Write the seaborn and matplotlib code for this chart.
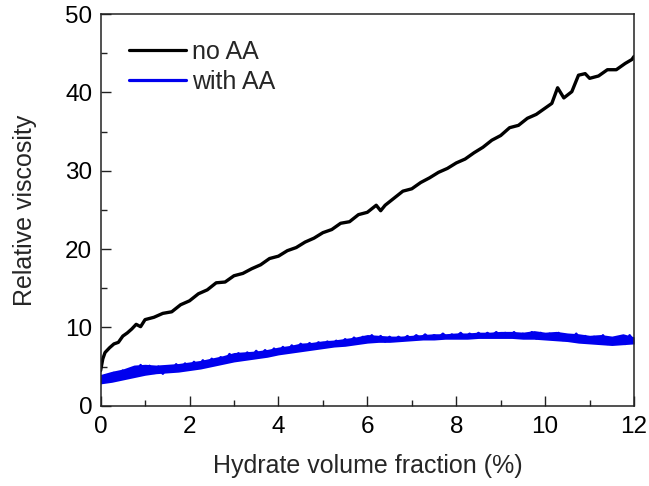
import numpy as np
import pandas as pd
import matplotlib
matplotlib.use("Agg")
import matplotlib.pyplot as plt
import seaborn as sns
from matplotlib.ticker import MultipleLocator

# ---- data ----
no_aa_x = [0.0, 0.05, 0.1, 0.2, 0.3, 0.4, 0.5, 0.6, 0.7, 0.8, 0.9, 1.0, 1.2, 1.4, 1.6, 1.8,
           2.0, 2.2, 2.4, 2.6, 2.8, 3.0, 3.2, 3.4, 3.6, 3.8, 4.0, 4.2, 4.4, 4.6, 4.8,
           5.0, 5.2, 5.4, 5.6, 5.8, 6.0, 6.2, 6.3, 6.4, 6.6, 6.8, 7.0, 7.2, 7.4, 7.6, 7.8,
           8.0, 8.2, 8.4, 8.6, 8.8, 9.0, 9.2, 9.4, 9.6, 9.8, 10.0, 10.15, 10.28, 10.42,
           10.6, 10.75, 10.9, 11.0, 11.2, 11.4, 11.6, 11.8, 11.95, 12.0]
no_aa_y = [4.5, 6.0, 6.8, 7.4, 7.9, 8.1, 8.9, 9.3, 9.8, 10.4, 10.1, 11.0, 11.3, 11.8, 12.0, 12.9,
           13.4, 14.3, 14.8, 15.7, 15.8, 16.6, 16.9, 17.5, 18.0, 18.8, 19.1, 19.8, 20.2, 20.9, 21.4,
           22.1, 22.5, 23.3, 23.5, 24.4, 24.7, 25.6, 24.9, 25.6, 26.5, 27.4, 27.7, 28.5, 29.1, 29.8, 30.3,
           31.0, 31.5, 32.3, 33.0, 33.9, 34.5, 35.5, 35.8, 36.7, 37.2, 38.0, 38.6, 40.6, 39.3,
           40.1, 42.2, 42.4, 41.8, 42.1, 42.9, 42.9, 43.7, 44.2, 44.6]

# noisy "with AA" trace
with_aa_x = [round(0.1 * i, 1) for i in range(121)]
with_aa_y = [3.0, 3.9, 3.2, 4.2, 3.5, 4.5, 3.6, 4.6, 4.0, 5.2, 4.3,
             5.1, 4.2, 5.0, 4.1, 5.0, 4.4, 5.3, 4.5, 5.4, 4.7,
             5.6, 4.9, 5.8, 5.2, 6.0, 5.4, 6.2, 5.7, 6.6, 5.9,
             6.7, 6.0, 6.8, 6.2, 7.0, 6.4, 7.1, 6.5, 7.3, 6.7,
             7.5, 6.9, 7.7, 7.1, 7.9, 7.3, 8.0, 7.4, 8.1, 7.6,
             8.2, 7.7, 8.3, 7.8, 8.5, 8.0, 8.7, 8.1, 8.8, 8.3,
             9.0, 8.3, 8.9, 8.2, 8.8, 8.3, 8.8, 8.4, 8.9, 8.5,
             9.0, 8.6, 9.1, 8.6, 9.0, 8.7, 9.2, 8.7, 9.1, 8.8,
             9.3, 8.7, 9.2, 8.8, 9.3, 8.8, 9.3, 8.9, 9.4, 8.8,
             9.3, 8.8, 9.4, 8.7, 9.2, 8.7, 9.4, 8.6, 9.3, 8.6,
             9.2, 8.5, 9.3, 8.4, 9.0, 8.5, 9.2, 8.3, 8.9, 8.1,
             8.8, 8.0, 9.0, 7.9, 8.6, 8.0, 8.8, 7.9, 9.0, 8.2]

# envelope of the noisy "with AA" band
band_x = [0.0, 0.25, 0.5, 0.75, 1.0, 1.25, 1.5, 1.75, 2.0, 2.25, 2.5, 2.75, 3.0, 3.25,
          3.5, 3.75, 4.0, 4.25, 4.5, 4.75, 5.0, 5.25, 5.5, 5.75, 6.0, 6.25, 6.5, 6.75,
          7.0, 7.25, 7.5, 7.75, 8.0, 8.25, 8.5, 8.75, 9.0, 9.25, 9.5, 9.75, 10.0, 10.25,
          10.5, 10.75, 11.0, 11.25, 11.5, 11.75, 12.0]
band_lo = [2.8, 3.0, 3.3, 3.6, 3.9, 4.1, 4.2, 4.3, 4.5, 4.7, 5.0, 5.3, 5.6, 5.8,
           6.0, 6.2, 6.5, 6.7, 6.9, 7.1, 7.3, 7.5, 7.6, 7.8, 8.0, 8.1, 8.1, 8.2,
           8.3, 8.4, 8.4, 8.5, 8.5, 8.5, 8.6, 8.6, 8.6, 8.6, 8.5, 8.5, 8.4, 8.3,
           8.2, 8.0, 7.9, 7.8, 7.7, 7.8, 7.9]
band_hi = [4.0, 4.4, 4.7, 5.2, 5.3, 5.2, 5.3, 5.4, 5.6, 5.8, 6.1, 6.4, 6.8, 6.9,
           7.0, 7.2, 7.5, 7.7, 8.0, 8.1, 8.3, 8.4, 8.6, 8.8, 9.1, 9.0, 8.9, 8.9,
           9.0, 9.1, 9.2, 9.2, 9.3, 9.3, 9.4, 9.4, 9.5, 9.5, 9.4, 9.6, 9.4, 9.5,
           9.3, 9.2, 9.0, 9.1, 8.9, 9.2, 8.8]

labels = ["no AA", "with AA"]
x_ticks = [0, 2, 4, 6, 8, 10, 12]
y_ticks = [0, 10, 20, 30, 40, 50]

sns.set_theme(style="white")
plt.rcParams["font.family"] = ["Liberation Sans", "DejaVu Sans"]

df_no = pd.DataFrame({"x": no_aa_x, "y": no_aa_y})
df_with = pd.DataFrame({"x": with_aa_x, "y": with_aa_y})

FS = 18
TFS = 17.5
BLUE = "#0000ee"

fig = plt.figure(figsize=(6.49, 4.86), dpi=100)
ax = fig.add_axes([0.155, 0.165, 0.822, 0.806])

ax.fill_between(band_x, band_lo, band_hi, color=BLUE, linewidth=0)
sns.lineplot(data=df_with, x="x", y="y", ax=ax, color=BLUE, linewidth=1.8,
             label=labels[1], sort=False, estimator=None)
sns.lineplot(data=df_no, x="x", y="y", ax=ax, color="black", linewidth=2.4,
             label=labels[0], sort=False, estimator=None)

ax.set_xlim(0, 12)
ax.set_ylim(0, 50)
ax.set_xticks(x_ticks)
ax.set_yticks(y_ticks)
ax.xaxis.set_minor_locator(MultipleLocator(1))
ax.yaxis.set_minor_locator(MultipleLocator(5))
ax.tick_params(axis="both", which="major", direction="in", length=7, width=1,
               labelsize=TFS, colors="#222222", labelcolor="black",
               bottom=True, left=True, top=False, right=False)
ax.tick_params(axis="x", which="major", pad=7)
ax.tick_params(axis="y", which="major", pad=6)
ax.tick_params(axis="both", which="minor", direction="in", length=4, width=1,
               colors="#222222", bottom=True, left=True, top=False, right=False)
for s in ax.spines.values():
    s.set_color("#222222")
    s.set_linewidth(1.1)

ax.set_xlabel("Hydrate volume fraction (%)", fontsize=FS, labelpad=12)
ax.set_ylabel("Relative viscosity", fontsize=FS, labelpad=20)

handles, labs = ax.get_legend_handles_labels()
order = [labs.index(l) for l in labels]
leg = ax.legend([handles[i] for i in order], [labs[i] for i in order],
                loc="upper left", frameon=False, fontsize=FS, handlelength=2.3,
                handletextpad=0.25, labelspacing=0.25, borderaxespad=0.0,
                bbox_to_anchor=(0.034, 0.96))
for h in leg.get_lines():
    h.set_linewidth(2.3)

fig.savefig("out.png", dpi=100)
